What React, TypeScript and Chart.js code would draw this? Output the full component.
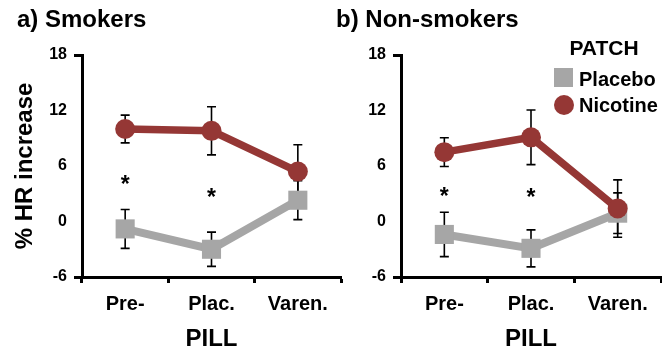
import React, { useEffect, useRef } from 'react';
import { Chart, registerables } from 'chart.js';
Chart.register(...registerables);

const categories = ['Pre-', 'Plac.', 'Varen.'];
const yTicks = [-6, 0, 6, 12, 18];
const smokersNicotine = [10.0, 9.8, 5.4];
const smokersNicotineErr = [1.5, 2.6, 2.9];
const smokersPlacebo = [-0.8, -3.0, 2.3];
const smokersPlaceboErr = [2.1, 1.85, 2.1];
const nonSmokersNicotine = [7.5, 9.1, 1.4];
const nonSmokersNicotineErr = [1.55, 2.95, 3.1];
const nonSmokersPlacebo = [-1.4, -2.9, 0.9];
const nonSmokersPlaceboErr = [2.4, 2.0, 2.2];
const smokersStars = [4.5, 3.1, null];
const nonSmokersStars = [3.2, 3.1, null];

const RED = '#953735';
const GRAY = '#A6A6A6';
const FONT = "'Liberation Sans', Arial, sans-serif";

const errorBarPlugin = {
  id: 'errorBars',
  beforeDatasetsDraw(chart: any) {
    const ctx = chart.ctx;
    const yScale = chart.scales.y;
    chart.data.datasets.forEach((ds: any, i: number) => {
      const meta = chart.getDatasetMeta(i);
      if (!ds.errors) return;
      ctx.save();
      ctx.strokeStyle = '#000';
      ctx.lineWidth = 1.6;
      meta.data.forEach((el: any, j: number) => {
        const v = ds.data[j];
        const e = ds.errors[j];
        const x = el.x;
        const yt = yScale.getPixelForValue(v + e);
        const yb = yScale.getPixelForValue(v - e);
        ctx.beginPath();
        ctx.moveTo(x, yt);
        ctx.lineTo(x, yb);
        ctx.moveTo(x - 4.5, yt);
        ctx.lineTo(x + 4.5, yt);
        ctx.moveTo(x - 4.5, yb);
        ctx.lineTo(x + 4.5, yb);
        ctx.stroke();
      });
      ctx.restore();
    });
  },
};

const starsPlugin = {
  id: 'stars',
  afterDatasetsDraw(chart: any, _args: any, opts: any) {
    const vals: (number | null)[] = opts.values || [];
    const ctx = chart.ctx;
    ctx.save();
    ctx.fillStyle = '#000';
    ctx.font = `bold 23px ${FONT}`;
    ctx.textAlign = 'center';
    ctx.textBaseline = 'alphabetic';
    vals.forEach((v, i) => {
      if (v === null || v === undefined) return;
      const x = chart.scales.x.getPixelForValue(i);
      const y = chart.scales.y.getPixelForValue(v);
      ctx.fillText('*', x, y + 12);
    });
    ctx.restore();
  },
};

function makeConfig(
  nic: number[], nicErr: number[], pla: number[], plaErr: number[],
  stars: (number | null)[], showYTitle: boolean, yWidth: number, padRight: number
): any {
  return {
    type: 'line',
    data: {
      labels: categories,
      datasets: [
        {
          label: 'Nicotine', data: nic, errors: nicErr, borderColor: RED, backgroundColor: RED,
          borderWidth: 7.5, pointStyle: 'circle', pointRadius: 10, pointBackgroundColor: RED,
          pointBorderWidth: 0, pointBorderColor: RED, order: 0, tension: 0,
        },
        {
          label: 'Placebo', data: pla, errors: plaErr, borderColor: GRAY, backgroundColor: GRAY,
          borderWidth: 8, pointStyle: 'rect', pointRadius: 13.5, pointBackgroundColor: GRAY,
          pointBorderWidth: 0, pointBorderColor: GRAY, order: 1, tension: 0,
        },
      ],
    },
    options: {
      animation: false,
      responsive: false,
      devicePixelRatio: 1,
      clip: false,
      layout: { autoPadding: false, padding: { top: 55, right: padRight, left: 0, bottom: 0 } },
      plugins: {
        legend: { display: false },
        tooltip: { enabled: false },
        stars: { values: stars },
      },
      scales: {
        x: {
          type: 'category',
          offset: true,
          grid: { offset: true, drawOnChartArea: false, drawTicks: true, tickLength: 6, tickWidth: 3, tickColor: '#000' },
          border: { color: '#000', width: 3 },
          ticks: { font: { family: FONT, size: 20, weight: 'bold' }, color: '#000', padding: 9, maxRotation: 0 },
          title: {
            display: true, text: 'PILL', color: '#000',
            font: { family: FONT, size: 24, weight: 'bold', lineHeight: 1 },
            padding: { top: 0, bottom: 0 },
          },
          afterFit: (s: any) => { s.height = 74; s.paddingLeft = 0; s.paddingRight = 0; },
        },
        y: {
          min: -6, max: 18,
          afterBuildTicks: (s: any) => { s.ticks = yTicks.map((v) => ({ value: v })); },
          ticks: { font: { family: FONT, size: 16, weight: 'bold' }, color: '#000', padding: 7 },
          grid: {
            drawOnChartArea: false, drawTicks: true, tickLength: 8, tickWidth: 3,
            tickColor: (c: any) => (c.tick && (c.tick.value === 18 || c.tick.value === -6)) ? '#000' : 'rgba(0,0,0,0)',
          },
          border: { color: '#000', width: 3 },
          title: {
            display: showYTitle, text: '% HR increase', color: '#000',
            font: { family: FONT, size: 24, weight: 'bold', lineHeight: 1 },
            padding: { top: 13, bottom: 0 },
          },
          afterFit: (s: any) => { s.width = yWidth; s.paddingTop = 0; s.paddingBottom = 0; },
        },
      },
    },
    plugins: [errorBarPlugin, starsPlugin],
  };
}

function Panel(props: { cfg: any; left: number; width: number }) {
  const ref = useRef<HTMLCanvasElement>(null);
  useEffect(() => {
    const chart = new Chart(ref.current as HTMLCanvasElement, props.cfg);
    return () => chart.destroy();
  }, []);
  return (
    <canvas
      ref={ref}
      width={props.width}
      height={351}
      style={{ position: 'absolute', left: props.left, top: 0, width: props.width, height: 351 }}
    />
  );
}

function Txt(props: { x: number; base: number; size: number; text: string; center?: boolean }) {
  const top = props.base - 0.8465 * props.size;
  return (
    <div
      style={{
        position: 'absolute', left: props.x, top, fontFamily: FONT, fontWeight: 'bold',
        fontSize: props.size, lineHeight: 1, whiteSpace: 'nowrap', color: '#000',
        transform: props.center ? 'translateX(-50%)' : undefined,
      }}
    >
      {props.text}
    </div>
  );
}

export default function App() {
  const leftCfg = makeConfig(smokersNicotine, smokersNicotineErr, smokersPlacebo, smokersPlaceboErr, smokersStars, true, 82, 9);
  const rightCfg = makeConfig(nonSmokersNicotine, nonSmokersNicotineErr, nonSmokersPlacebo, nonSmokersPlaceboErr, nonSmokersStars, false, 70, 1);
  return (
    <div style={{ position: 'fixed', left: 0, top: 0, width: 662, height: 351, background: '#fff', overflow: 'hidden' }}>
      <Panel cfg={leftCfg} left={0} width={350} />
      <Panel cfg={rightCfg} left={331} width={331} />
      <Txt x={17} base={27} size={24} text="a) Smokers" />
      <Txt x={336} base={27} size={24} text="b) Non-smokers" />
      <Txt x={604} base={55} size={21} text="PATCH" center />
      <div style={{ position: 'absolute', left: 554, top: 68, width: 19, height: 19, background: GRAY }} />
      <Txt x={579} base={86} size={20} text="Placebo" />
      <div style={{ position: 'absolute', left: 554, top: 95, width: 20, height: 20, borderRadius: '50%', background: RED }} />
      <Txt x={579} base={112} size={20} text="Nicotine" />
    </div>
  );
}
